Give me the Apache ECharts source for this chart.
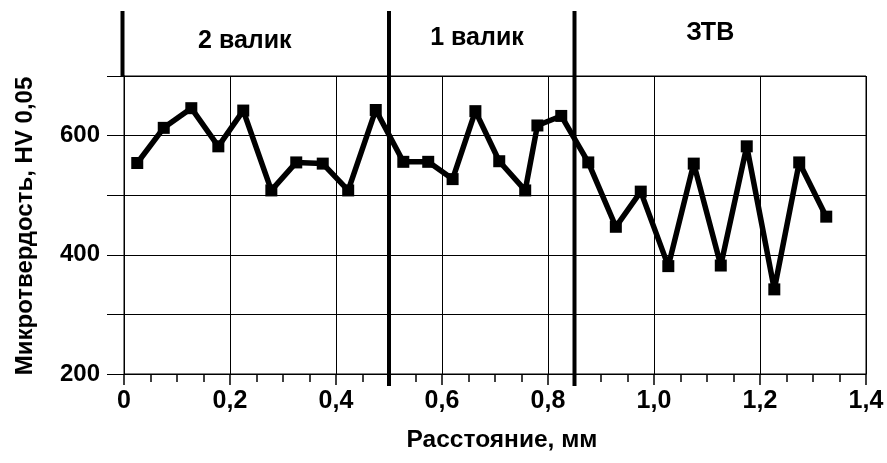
<!DOCTYPE html>
<html>
<head>
<meta charset="utf-8">
<script src="https://cdn.jsdelivr.net/npm/echarts@6/dist/echarts.min.js"></script>
<style>
  html, body { margin: 0; padding: 0; background: #ffffff; }
  #chart { width: 887px; height: 463px; }
</style>
</head>
<body>
<div id="chart"></div>
<script>
// Microhardness profile across two weld beads and the heat-affected zone
const distance = [0.025, 0.075, 0.127, 0.178, 0.225, 0.278, 0.325, 0.375, 0.423, 0.475,
                  0.527, 0.574, 0.620, 0.663, 0.708, 0.757, 0.780, 0.825, 0.876, 0.928,
                  0.975, 1.027, 1.075, 1.126, 1.175, 1.227, 1.274, 1.325];
const hardness = [554, 613, 646, 582, 642, 508, 555, 553, 508, 643,
                  556, 556, 527, 641, 557, 508, 617, 633, 555, 447,
                  506, 381, 553, 382, 582, 342, 555, 464];

// Zone boundaries (mm) and zone captions
const zoneBounds = [0, 0.5, 0.85];
const zoneNames = ['2 валик', '1 валик', 'ЗТВ'];
const zoneLabelX = [0.228, 0.666, 1.106];

const xTickLabels = ['0', '0,2', '0,4', '0,6', '0,8', '1,0', '1,2', '1,4'];
const yTickLabels = ['200', '', '400', '', '600', ''];

const FONT = "'Liberation Sans', Arial, sans-serif";

const chart = echarts.init(document.getElementById('chart'), null, { renderer: 'canvas' });

chart.setOption({
  backgroundColor: '#ffffff',
  animation: false,
  grid: {
    left: 124, right: 21, top: 76, bottom: 89,
    show: true, borderColor: '#000', borderWidth: 1
  },
  xAxis: {
    type: 'value', min: 0, max: 1.4, interval: 0.2,
    axisLine: { lineStyle: { color: '#000', width: 1 } },
    axisTick: { length: 11, lineStyle: { color: '#000', width: 1.5 } },
    minorTick: { show: true, splitNumber: 4, length: 8, lineStyle: { color: '#000', width: 1.5 } },
    splitLine: { show: true, lineStyle: { color: '#000', width: 1 } },
    axisLabel: {
      margin: 15, color: '#000', fontFamily: FONT, fontWeight: 'bold', fontSize: 25,
      formatter: (v) => {
        const i = Math.round(v / 0.2);
        return i === xTickLabels.length - 1 ? '{end|' + xTickLabels[i] + '}' : xTickLabels[i];
      },
      rich: {
        end: { fontFamily: FONT, fontWeight: 'bold', fontSize: 25, color: '#000', padding: [0, 0, 7, 0] }
      }
    }
  },
  yAxis: {
    type: 'value', min: 200, max: 700, interval: 100,
    axisLine: { show: true, lineStyle: { color: '#000', width: 1 } },
    axisTick: { show: true, length: 17, lineStyle: { color: '#000', width: 1 } },
    splitLine: { show: true, lineStyle: { color: '#000', width: 1 } },
    axisLabel: {
      margin: 24, color: '#000', fontFamily: FONT, fontWeight: 'bold', fontSize: 24,
      formatter: (v) => yTickLabels[Math.round((v - 200) / 100)]
    }
  },
  series: [{
    type: 'line',
    data: distance.map((d, i) => [d, hardness[i]]),
    symbol: 'rect', symbolSize: 12,
    lineStyle: { color: '#000', width: 5.5 },
    itemStyle: { color: '#000' },
    clip: false,
    z: 5
  }]
});

// Zone separators and captions, positioned through the axis scales
const sepTop = 11;
const plotBottom = chart.convertToPixel({ gridIndex: 0 }, [0, 200])[1];
const plotTop = chart.convertToPixel({ gridIndex: 0 }, [0, 700])[1];
const labelY = [41, 38, 33];
const graphics = [];
zoneBounds.forEach((b, i) => {
  const x = chart.convertToPixel({ gridIndex: 0 }, [b, 200])[0] - (i === 0 ? 1.5 : 0);
  graphics.push({
    type: 'line', z: 10,
    shape: { x1: x, y1: sepTop, x2: x, y2: i === 0 ? plotTop : plotBottom + 12 },
    style: { stroke: '#000', lineWidth: 4 }
  });
});
zoneNames.forEach((name, i) => {
  const x = chart.convertToPixel({ gridIndex: 0 }, [zoneLabelX[i], 200])[0];
  graphics.push({
    type: 'text', x: x, y: labelY[i], z: 10,
    style: { text: name, fill: '#000', font: 'bold 25px ' + FONT, align: 'center', verticalAlign: 'middle' }
  });
});
// Axis titles
graphics.push({
  type: 'text', x: 502, y: 440,
  style: { text: 'Расстояние, мм', fill: '#000', font: 'bold 24.5px ' + FONT, align: 'center', verticalAlign: 'middle' }
});
graphics.push({
  type: 'text', x: 25, y: 226, rotation: Math.PI / 2,
  style: { text: 'Микротвердость, HV 0,05', fill: '#000', font: 'bold 24px ' + FONT, align: 'center', verticalAlign: 'middle' }
});
chart.setOption({ graphic: graphics });
</script>
</body>
</html>
